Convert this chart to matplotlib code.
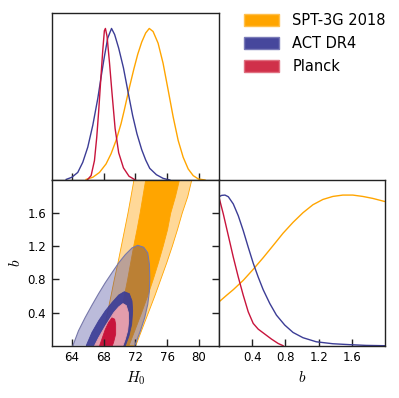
import matplotlib
matplotlib.use("Agg")
import matplotlib.pyplot as plt
from matplotlib.patches import Patch

plt.rcParams['font.family'] = ['DejaVu Sans']
plt.rcParams['mathtext.fontset'] = 'cm'

# colours
orange = '#FFA500'
orange_light = '#FFD898'
navy = '#3C3D96'
crimson = '#C8143C'
pink = '#E49DAC'

labels = ['SPT-3G 2018', 'ACT DR4', 'Planck']

# 1D H0 posteriors (normalised to peak)
spt_h0 = [65.8, 66.64, 67.48, 68.31, 68.94, 69.57, 70.2, 70.6, 71.2, 71.8, 72.3, 72.8, 73.3,
          73.75, 74.23, 74.86, 75.49, 76.13, 76.76, 77.39, 78.02, 78.65, 79.28, 79.92, 80.76]
spt_h0_p = [0.004, 0.018, 0.05, 0.106, 0.173, 0.261, 0.372, 0.46, 0.6, 0.73, 0.83, 0.91, 0.97,
            1.0, 0.98, 0.903, 0.77, 0.593, 0.416, 0.261, 0.15, 0.073, 0.029, 0.007, 0.0]
act_h0 = [63.29, 64.0, 64.75, 65.38, 66.01, 66.64, 67.27, 67.69, 68.1, 68.52, 69.0, 69.39,
          69.9, 70.5, 71.1, 71.66, 72.2, 72.8, 73.3, 73.81, 74.65, 75.49, 76.34]
act_h0_p = [0.004, 0.018, 0.05, 0.117, 0.217, 0.361, 0.538, 0.681, 0.814, 0.936, 1.0, 0.96,
            0.87, 0.74, 0.575, 0.425, 0.305, 0.2, 0.132, 0.077, 0.035, 0.011, 0.0]
planck_h0 = [66.0, 66.43, 66.85, 67.14, 67.39, 67.64, 67.9, 68.1, 68.23, 68.44, 68.75, 69.05,
             69.45, 69.9, 70.5, 71.2, 72.0]
planck_h0_p = [0.004, 0.029, 0.128, 0.283, 0.46, 0.659, 0.858, 0.985, 1.0, 0.947, 0.77, 0.58,
               0.34, 0.18, 0.08, 0.025, 0.0]

# 1D b posteriors
spt_b = [0.0, 0.092, 0.172, 0.292, 0.412, 0.532, 0.652, 0.772, 0.892, 1.012, 1.132, 1.252,
         1.372, 1.492, 1.612, 1.732, 1.852, 1.992]
spt_b_p = [0.291, 0.335, 0.372, 0.434, 0.507, 0.584, 0.665, 0.747, 0.819, 0.883, 0.936, 0.971,
           0.991, 1.0, 1.0, 0.991, 0.978, 0.958]
act_b = [0.0, 0.032, 0.072, 0.112, 0.172, 0.232, 0.292, 0.352, 0.412, 0.472, 0.532, 0.612,
         0.692, 0.792, 0.892, 1.012, 1.172, 1.372, 1.572, 1.772, 1.992]
act_b_p = [0.989, 0.998, 1.0, 0.989, 0.941, 0.863, 0.764, 0.654, 0.548, 0.456, 0.372, 0.28,
           0.203, 0.137, 0.088, 0.053, 0.026, 0.013, 0.007, 0.002, 0.0]
planck_b = [0.0, 0.052, 0.112, 0.172, 0.232, 0.292, 0.352, 0.412, 0.472, 0.552, 0.632, 0.712, 0.772]
planck_b_p = [0.985, 0.874, 0.731, 0.588, 0.456, 0.335, 0.225, 0.148, 0.11, 0.077, 0.044, 0.015, 0.0]

# 2D contours: SPT band edges, H0 at given b
spt_edge_b = [0.0, 0.2, 0.4, 0.6, 0.8, 1.0, 1.2, 1.4, 1.6, 1.8, 2.0, 2.05]
spt95_left = [67.58, 68.04, 68.5, 68.93, 69.35, 69.81, 70.23, 70.65, 71.07, 71.45, 71.82, 71.91]
spt95_right = [72.05, 72.85, 73.65, 74.45, 75.2, 75.95, 76.65, 77.3, 77.9, 78.6, 79.1, 79.25]
spt68_left = [69.35, 69.77, 70.19, 70.61, 71.03, 71.41, 71.79, 72.21, 72.6, 72.95, 73.3, 73.4]
spt68_right = [71.2, 72.0, 72.8, 73.55, 74.25, 74.9, 75.5, 76.05, 76.45, 77.05, 77.55, 77.68]

# ACT and Planck closed contours (H0, b)
act95_h0 = [64.13, 64.84, 65.68, 66.53, 67.37, 68.21, 69.05, 69.9, 70.74, 71.58, 72.3, 73.05,
            73.56, 73.77, 73.81, 73.77, 73.56, 73.18, 72.63, 71.92]
act95_b = [0.0, 0.18, 0.34, 0.488, 0.628, 0.76, 0.88, 1.0, 1.1, 1.18, 1.212, 1.188,
           1.12, 0.98, 0.82, 0.66, 0.5, 0.34, 0.18, 0.0]
act68_h0 = [65.81, 66.53, 67.37, 68.21, 69.05, 69.9, 70.61, 71.24, 71.58, 71.66, 71.54, 71.2, 70.74]
act68_b = [0.0, 0.16, 0.3, 0.42, 0.52, 0.612, 0.652, 0.628, 0.54, 0.42, 0.26, 0.12, 0.0]
planck95_h0 = [66.86, 67.37, 68.21, 69.26, 69.9, 70.44, 70.86, 71.12, 71.16, 71.03, 70.74, 70.44]
planck95_b = [0.0, 0.096, 0.236, 0.396, 0.468, 0.508, 0.484, 0.4, 0.3, 0.18, 0.08, 0.0]
planck68_h0 = [67.5, 67.79, 68.21, 68.63, 69.05, 69.39, 69.52, 69.52, 69.26, 69.1]
planck68_b = [0.0, 0.08, 0.196, 0.28, 0.336, 0.32, 0.26, 0.14, 0.04, 0.0]

h0_ticks = [64, 68, 72, 76, 80]
b_ticks = [0.4, 0.8, 1.2, 1.6]

fig = plt.figure(figsize=(3.99, 3.98), dpi=100)
ax_h = fig.add_axes([0.1296, 0.5477, 0.4193, 0.4189])
ax_2d = fig.add_axes([0.1296, 0.1314, 0.4193, 0.4163])
ax_b = fig.add_axes([0.5489, 0.1314, 0.4160, 0.4163])

for ax in (ax_h, ax_2d, ax_b):
    for s in ax.spines.values():
        s.set_linewidth(1.0)
        s.set_color('#222222')
    ax.tick_params(direction='in', length=5, width=1, labelsize=8.5, pad=4, color='#222222')

# top: H0 marginals
ax_h.plot(spt_h0, spt_h0_p, color=orange, lw=1)
ax_h.plot(act_h0, act_h0_p, color=navy, lw=1)
ax_h.plot(planck_h0, planck_h0_p, color=crimson, lw=1)
ax_h.set_xlim(61.47, 82.53)
ax_h.set_ylim(0, 1.1)
ax_h.set_xticks(h0_ticks)
ax_h.set_yticks([])
ax_h.tick_params(labelbottom=False)

# 2D H0 - b
spt95_h = spt95_left + spt95_right[::-1]
spt68_h = spt68_left + spt68_right[::-1]
spt_bb = spt_edge_b + spt_edge_b[::-1]
ax_2d.fill(spt95_h, spt_bb, facecolor=orange_light, edgecolor=orange, lw=0.6)
ax_2d.fill(spt68_h, spt_bb, facecolor=orange, edgecolor=orange, lw=0.6)
ax_2d.fill(act95_h0, act95_b, facecolor=navy, alpha=0.35, edgecolor='none')
ax_2d.plot(act95_h0, act95_b, color='#7778AA', lw=0.8)
ax_2d.fill(act68_h0, act68_b, facecolor=navy, alpha=0.92, edgecolor=navy, lw=0.6)
ax_2d.fill(planck95_h0, planck95_b, facecolor=pink, edgecolor=pink, lw=0.6)
ax_2d.fill(planck68_h0, planck68_b, facecolor=crimson, edgecolor=crimson, lw=0.6)
ax_2d.set_xlim(61.47, 82.53)
ax_2d.set_ylim(0, 2.0)
ax_2d.set_xticks(h0_ticks)
ax_2d.set_yticks(b_ticks)
ax_2d.set_yticklabels(['0.4', '0.8', '1.2', '1.6'])
ax_2d.tick_params(right=True)
ax_2d.set_xlabel(r'$H_0$', fontsize=11, labelpad=4)
ax_2d.set_ylabel(r'$b$', fontsize=11, labelpad=3)

# right: b marginals
ax_b.plot(spt_b, spt_b_p, color=orange, lw=1)
ax_b.plot(act_b, act_b_p, color=navy, lw=1)
ax_b.plot(planck_b, planck_b_p, color=crimson, lw=1)
ax_b.set_xlim(0, 2.0)
ax_b.set_ylim(0, 1.1)
ax_b.set_xticks(b_ticks)
ax_b.set_xticklabels(['0.4', '0.8', '1.2', '1.6'])
ax_b.set_yticks([])
ax_b.set_xlabel(r'$b$', fontsize=11, labelpad=4)

handles = [Patch(facecolor=orange, edgecolor='#FFC04D'),
           Patch(facecolor='#46479C', edgecolor='#7A7BB8'),
           Patch(facecolor='#D0304A', edgecolor='#E07080')]
fig.legend(handles, labels, loc='upper left', bbox_to_anchor=(244 / 399, 1 - 13 / 398),
           frameon=False, fontsize=10.5, handlelength=2.4, handleheight=0.85,
           handletextpad=0.9, labelspacing=0.55, borderpad=0, borderaxespad=0)

fig.savefig('out.png', dpi=100)
